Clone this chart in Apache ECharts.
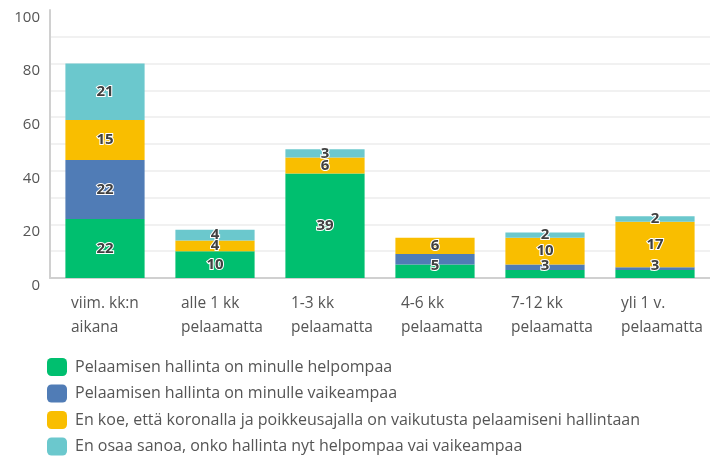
<!DOCTYPE html>
<html>
<head>
<meta charset="utf-8">
<script src="https://cdn.jsdelivr.net/npm/echarts@6/dist/echarts.min.js"></script>
<style>
  html, body { margin: 0; padding: 0; background: #fff; }
  #chart { width: 710px; height: 459px; }
</style>
</head>
<body>
<div id="chart"></div>
<script>
const categories = [
    'viim. kk:n\naikana',
    'alle 1 kk\npelaamatta',
    '1-3 kk\npelaamatta',
    '4-6 kk\npelaamatta',
    '7-12 kk\npelaamatta',
    'yli 1 v.\npelaamatta'
];
const seriesNames = [
    'Pelaamisen hallinta on minulle helpompaa',
    'Pelaamisen hallinta on minulle vaikeampaa',
    'En koe, että koronalla ja poikkeusajalla on vaikutusta pelaamiseni hallintaan',
    'En osaa sanoa, onko hallinta nyt helpompaa vai vaikeampaa'
];
const easier = [22, 10, 39, 5, 3, 3];
const harder = [22, 0, 0, 4, 2, 1];
const noEffect = [15, 4, 6, 6, 10, 17];
const dontKnow = [21, 4, 3, 0, 2, 2];
const colors = ['#00bf6f', '#507cb6', '#f9be00', '#6bc8cd'];

const font = "'Open Sans', sans-serif";

const chart = echarts.init(document.getElementById('chart'));

function makeSeries(name, values, minLabel, lift) {
    const s = {
        name: name,
        type: 'bar',
        stack: 'total',
        barWidth: '72%',
        data: values,
        label: {
            show: true,
            position: 'inside',
            fontFamily: font,
            fontSize: 15,
            fontWeight: 'bold',
            color: '#404040',
            textBorderColor: '#fff',
            textBorderWidth: 2,
            formatter: p => (p.value >= minLabel ? p.value : '')
        }
    };
    if (lift) {
        // small labels at the bottom sit higher, not below the bar
        s.labelLayout = p => {
            const bottom = p.rect.y + p.rect.height;
            const cy = p.rect.y + p.rect.height / 2;
            return { dy: Math.min(0, bottom - 12 - cy) };
        };
    }
    return s;
}

chart.setOption({
    color: colors,
    animation: false,
    grid: { left: 50, top: 10, width: 666, bottom: 181 },
    legend: {
        orient: 'vertical',
        left: 47,
        top: 357,
        padding: 0,
        width: 650,
        height: 110,
        itemWidth: 20,
        itemHeight: 18,
        itemGap: 6.5,
        icon: 'roundRect',
        textStyle: { fontFamily: font, fontSize: 16, color: '#555', lineHeight: 20, padding: [0, 0, 0, 3] },
        data: seriesNames
    },
    xAxis: {
        type: 'category',
        data: categories,
        axisTick: { show: false },
        axisLine: { lineStyle: { color: '#d0d0d0', width: 2 } },
        axisLabel: {
            interval: 0,
            margin: 14,
            fontFamily: font,
            fontSize: 15.5,
            color: '#555',
            lineHeight: 24,
            formatter: v => v.split('\n').map(s => '{a|' + s + '}').join('\n'),
            rich: { a: { width: 68, align: 'left', fontFamily: font, fontSize: 15.5, color: '#555', lineHeight: 24 } }
        }
    },
    yAxis: {
        type: 'value',
        min: 0,
        max: 100,
        interval: 10,
        axisLine: { show: true, lineStyle: { color: '#d0d0d0', width: 2 } },
        axisTick: { show: false },
        splitLine: { showMaxLine: false, lineStyle: { color: '#ececec', width: 1.5 } },
        axisLabel: {
            margin: 10,
            fontFamily: font,
            fontSize: 15,
            color: '#555',
            verticalAlign: 'top',
            formatter: v => (v % 20 === 0 ? v : '')
        }
    },
    series: [
        makeSeries(seriesNames[0], easier, 1, true),
        makeSeries(seriesNames[1], harder, 5, false),
        makeSeries(seriesNames[2], noEffect, 1, false),
        makeSeries(seriesNames[3], dontKnow, 1, false)
    ]
});
</script>
</body>
</html>
